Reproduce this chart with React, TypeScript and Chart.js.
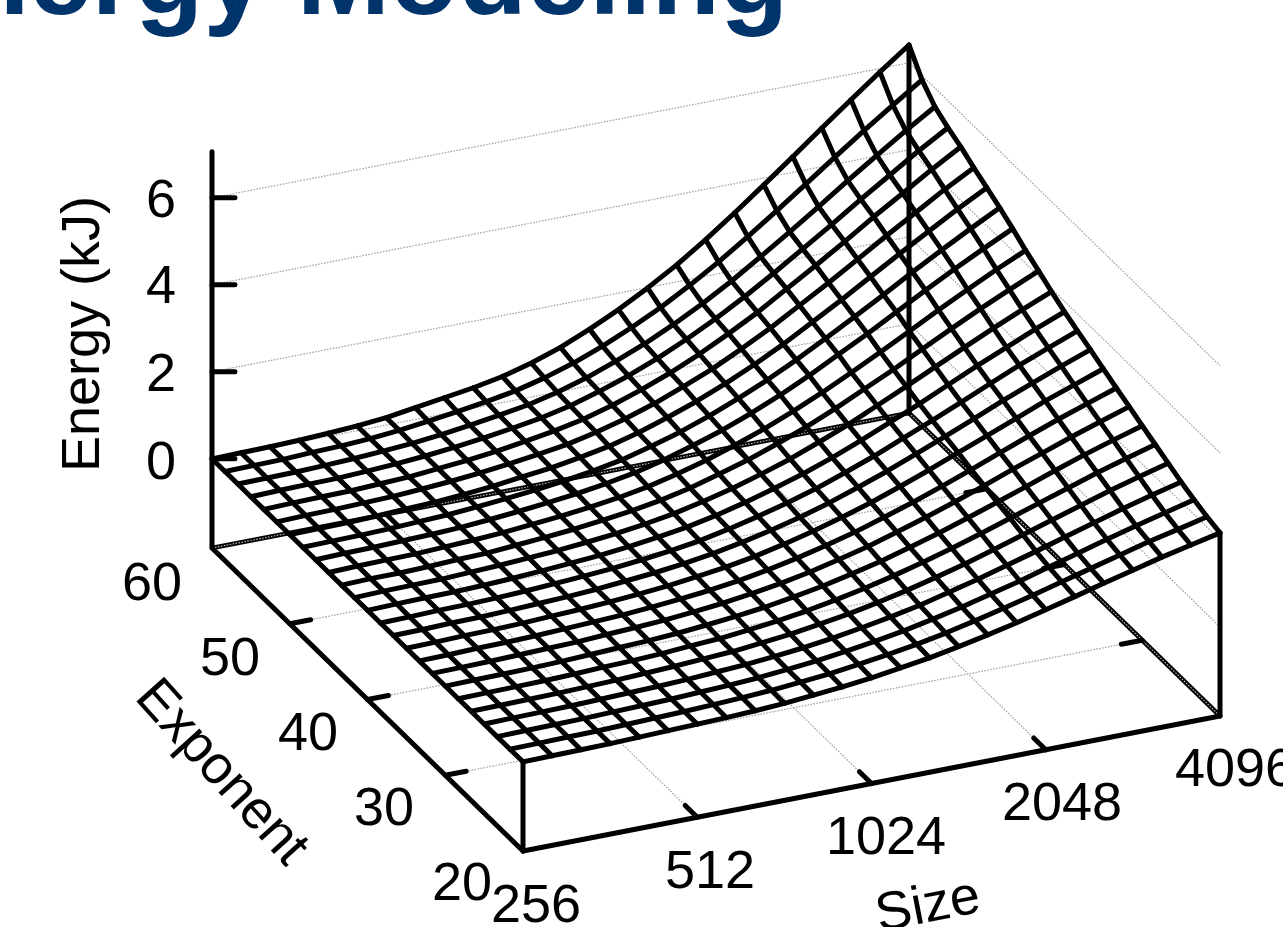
import React, { useEffect, useRef } from "react";
import { Chart, registerables } from "chart.js";

Chart.register(...registerables);

const sizeTicks = [256, 512, 1024, 2048, 4096];
const exponentTicks = [20, 30, 40, 50, 60];
const energyTicks = [0, 2, 4, 6];

const sizeGridLog2 = [8, 8.167, 8.333, 8.5, 8.667, 8.833, 9, 9.167, 9.333, 9.5, 9.667, 9.833, 10, 10.167, 10.333, 10.5, 10.667, 10.833, 11, 11.167, 11.333, 11.5, 11.667, 11.833, 12];
const exponentGrid = [20, 21.67, 23.33, 25, 26.67, 28.33, 30, 31.67, 33.33, 35, 36.67, 38.33, 40, 41.67, 43.33, 45, 46.67, 48.33, 50, 51.67, 53.33, 55, 56.67, 58.33, 60];

const energyE20 = [0, .01, .02, .03, .05, .07, .09, .11, .14, .18, .24, .30, .38, .48, .58, .71, .85, 1.00, 1.17, 1.34, 1.52, 1.69, 1.86, 2.01, 2.16];
const energyE22 = [0, .01, .02, .03, .05, .07, .09, .12, .15, .19, .25, .31, .40, .49, .60, .73, .88, 1.04, 1.21, 1.39, 1.57, 1.75, 1.93, 2.08, 2.24];
const energyE23 = [0, .01, .02, .03, .05, .07, .09, .12, .15, .19, .25, .32, .41, .51, .62, .76, .91, 1.08, 1.25, 1.44, 1.63, 1.82, 2.00, 2.17, 2.34];
const energyE25 = [0, .01, .02, .03, .05, .07, .09, .12, .16, .20, .26, .33, .42, .53, .65, .79, .96, 1.13, 1.32, 1.51, 1.71, 1.91, 2.11, 2.29, 2.46];
const energyE27 = [0, .01, .02, .03, .05, .07, .10, .13, .17, .21, .28, .35, .45, .56, .69, .84, 1.01, 1.19, 1.39, 1.60, 1.81, 2.02, 2.23, 2.42, 2.60];
const energyE28 = [0, .01, .02, .03, .05, .08, .10, .13, .18, .22, .29, .37, .47, .59, .73, .89, 1.07, 1.26, 1.47, 1.69, 1.91, 2.13, 2.35, 2.55, 2.74];
const energyE30 = [0, .01, .02, .03, .05, .08, .11, .14, .18, .24, .31, .39, .50, .62, .77, .93, 1.12, 1.32, 1.54, 1.77, 2.00, 2.24, 2.47, 2.68, 2.88];
const energyE32 = [0, .01, .02, .04, .06, .08, .12, .15, .19, .25, .32, .41, .52, .65, .81, .98, 1.18, 1.39, 1.62, 1.86, 2.11, 2.35, 2.59, 2.81, 3.03];
const energyE33 = [0, .01, .03, .04, .06, .09, .12, .15, .20, .26, .33, .42, .54, .68, .84, 1.02, 1.23, 1.45, 1.69, 1.94, 2.20, 2.46, 2.71, 2.94, 3.17];
const energyE35 = [0, .01, .03, .04, .06, .09, .12, .16, .21, .27, .35, .44, .56, .71, .88, 1.07, 1.28, 1.52, 1.77, 2.04, 2.30, 2.57, 2.84, 3.08, 3.32];
const energyE37 = [0, .01, .03, .04, .06, .09, .12, .16, .22, .28, .36, .46, .59, .74, .91, 1.11, 1.34, 1.58, 1.85, 2.12, 2.40, 2.69, 2.96, 3.22, 3.47];
const energyE38 = [0, .01, .03, .04, .06, .09, .13, .17, .22, .29, .37, .47, .61, .77, .95, 1.15, 1.39, 1.64, 1.92, 2.20, 2.49, 2.79, 3.08, 3.35, 3.61];
const energyE40 = [0, .02, .03, .04, .06, .09, .13, .18, .23, .30, .39, .49, .63, .80, .99, 1.20, 1.44, 1.71, 2.00, 2.29, 2.60, 2.91, 3.20, 3.49, 3.76];
const energyE42 = [0, .02, .03, .04, .07, .10, .14, .18, .24, .31, .40, .51, .66, .83, 1.03, 1.25, 1.51, 1.78, 2.09, 2.40, 2.72, 3.04, 3.35, 3.65, 3.93];
const energyE43 = [0, .02, .02, .04, .07, .09, .14, .19, .25, .33, .42, .53, .68, .87, 1.07, 1.31, 1.57, 1.86, 2.18, 2.50, 2.84, 3.18, 3.51, 3.82, 4.12];
const energyE45 = [0, .02, .03, .04, .07, .10, .14, .20, .26, .34, .43, .55, .71, .90, 1.12, 1.36, 1.64, 1.94, 2.27, 2.61, 2.96, 3.32, 3.66, 3.99, 4.30];
const energyE47 = [0, .02, .03, .05, .07, .10, .15, .21, .28, .36, .46, .58, .75, .95, 1.17, 1.43, 1.72, 2.04, 2.39, 2.74, 3.11, 3.48, 3.84, 4.18, 4.51];
const energyE48 = [0, .01, .02, .04, .07, .10, .15, .21, .28, .36, .46, .59, .77, .97, 1.21, 1.48, 1.78, 2.11, 2.47, 2.84, 3.22, 3.61, 3.99, 4.35, 4.70];
const energyE50 = [0, .01, .02, .04, .07, .10, .15, .21, .29, .37, .48, .61, .79, 1.01, 1.25, 1.53, 1.84, 2.18, 2.56, 2.94, 3.34, 3.74, 4.13, 4.51, 4.87];
const energyE52 = [0, .02, .03, .05, .07, .11, .16, .22, .30, .39, .49, .64, .82, 1.04, 1.30, 1.58, 1.91, 2.26, 2.65, 3.04, 3.45, 3.87, 4.27, 4.67, 5.04];
const energyE53 = [0, .02, .03, .04, .07, .10, .16, .22, .30, .40, .51, .65, .84, 1.07, 1.33, 1.63, 1.97, 2.33, 2.74, 3.15, 3.57, 4.01, 4.42, 4.84, 5.23];
const energyE55 = [0, .02, .03, .04, .07, .11, .16, .23, .31, .41, .52, .67, .87, 1.10, 1.37, 1.68, 2.02, 2.40, 2.81, 3.24, 3.67, 4.12, 4.55, 4.98, 5.38];
const energyE57 = [0, .01, .02, .04, .07, .11, .16, .23, .32, .42, .53, .69, .89, 1.14, 1.41, 1.73, 2.08, 2.47, 2.90, 3.34, 3.79, 4.26, 4.71, 5.15, 5.57];
const energyE58 = [0, .01, .02, .05, .07, .11, .17, .25, .34, .44, .56, .73, .94, 1.20, 1.50, 1.83, 2.21, 2.62, 3.07, 3.54, 4.02, 4.51, 4.99, 5.45, 5.90];
const energyE60 = [0, .01, .02, .04, .07, .11, .17, .27, .37, .47, .60, .78, 1.01, 1.30, 1.62, 1.99, 2.39, 2.84, 3.33, 3.84, 4.36, 4.89, 5.41, 5.92, 6.41];

const energyRows = [energyE20, energyE22, energyE23, energyE25, energyE27, energyE28, energyE30, energyE32, energyE33, energyE35, energyE37, energyE38, energyE40, energyE42, energyE43, energyE45, energyE47, energyE48, energyE50, energyE52, energyE53, energyE55, energyE57, energyE58, energyE60];

const FLOOR = -2.05;
const TOP = 7.06;
const FONT = '"Liberation Sans", Arial, sans-serif';

type P3 = [number, number, number];

// 3D view of the box: log2(size), exponent, energy -> value on the hidden x and y scales
function project([s, e, z]: P3) {
  return {
    x: 523 + 174.25 * (s - 8) - 7.775 * (e - 20),
    y: 851 - 33.75 * (s - 8) - 7.575 * (e - 20) - 43.5 * (z - FLOOR),
  };
}

function line(points: P3[], color: string, width: number, order: number, dash?: number[]) {
  return {
    type: "scatter" as const,
    data: points.map(project),
    showLine: true,
    pointRadius: 0,
    borderColor: color,
    borderWidth: width,
    borderDash: dash ?? [],
    borderCapStyle: dash ? "butt" : "round",
    borderJoinStyle: "round",
    tension: 0,
    fill: false,
    order,
    clip: false,
  };
}

function buildDatasets() {
  const out: any[] = [];
  const gridColor = "#a0a0a0";
  const dots = [1.6, 1.4];
  const log2s = sizeTicks.map((v) => Math.log2(v));
  const sMin = log2s[0];
  const sMax = log2s[log2s.length - 1];
  const eMin = exponentTicks[0];
  const eMax = exponentTicks[exponentTicks.length - 1];

  // gray grid
  energyTicks.forEach((z) => {
    out.push(line([[sMin, eMax, z], [sMax, eMax, z], [sMax, eMin, z]], gridColor, 1.2, 40, dots));
  });
  log2s.slice(1, -1).forEach((s) => {
    out.push(line([[s, eMin, FLOOR], [s, eMax, FLOOR]], gridColor, 1.2, 40, dots));
  });
  exponentTicks.slice(1, -1).forEach((e) => {
    out.push(line([[sMin, e, FLOOR], [sMax, e, FLOOR]], gridColor, 1.2, 40, dots));
  });

  // back floor edges, dark with the gray grid line on them
  const backA: P3[] = [[sMin, eMax, FLOOR], [sMax, eMax, FLOOR]];
  const backB: P3[] = [[sMax, eMax, FLOOR], [sMax, eMin, FLOOR]];
  out.push(line(backA, "#000", 4.6, 50));
  out.push(line(backB, "#000", 4.6, 50));
  out.push(line(backA, "#b0b0b0", 1.2, 45, dots));
  out.push(line(backB, "#b0b0b0", 1.2, 45, dots));

  // box
  const boxW = 5;
  out.push(line([[sMin, eMin, FLOOR], [sMax, eMin, FLOOR]], "#000", boxW, 20));
  out.push(line([[sMin, eMin, FLOOR], [sMin, eMax, FLOOR], [sMin, eMax, TOP]], "#000", boxW, 20));
  out.push(line([[sMin, eMin, FLOOR], [sMin, eMin, energyE20[0]]], "#000", boxW, 20));
  out.push(line([[sMax, eMin, FLOOR], [sMax, eMin, energyE20[24]]], "#000", boxW, 20));
  out.push(line([[sMax, eMax, FLOOR], [sMax, eMax, energyE60[24]]], "#000", boxW, 20));

  // ticks
  energyTicks.forEach((z) => {
    out.push(line([[sMin, eMax, z], [sMin + 0.11, eMax - 0.49, z]], "#000", boxW, 20));
  });
  log2s.slice(1, -1).forEach((s) => {
    out.push(line([[s, eMin, FLOOR], [s, eMin + 1.55, FLOOR]], "#000", boxW, 20));
    out.push(line([[s, eMax, FLOOR], [s, eMax - 1.55, FLOOR]], "#000", boxW, 20));
  });
  exponentTicks.slice(1, -1).forEach((e) => {
    out.push(line([[sMin, e, FLOOR], [sMin + 0.12, e, FLOOR]], "#000", boxW, 20));
    out.push(line([[sMax, e, FLOOR], [sMax - 0.12, e, FLOOR]], "#000", boxW, 20));
  });

  // surface mesh
  const meshW = 5;
  energyRows.forEach((row, j) => {
    out.push(line(row.map((z, i) => [sizeGridLog2[i], exponentGrid[j], z] as P3), "#000", meshW, 10));
  });
  sizeGridLog2.forEach((s, i) => {
    out.push(line(energyRows.map((row, j) => [s, exponentGrid[j], row[i]] as P3), "#000", meshW, 10));
  });
  return out;
}

const labels = {
  id: "labels3d",
  afterDraw(chart: any) {
    const ctx = chart.ctx as CanvasRenderingContext2D;
    const text = (t: string, x: number, y: number, rot = 0, align: CanvasTextAlign = "center", base: CanvasTextBaseline = "middle") => {
      ctx.save();
      ctx.translate(x, y);
      ctx.rotate((rot * Math.PI) / 180);
      ctx.textAlign = align;
      ctx.textBaseline = base;
      ctx.fillText(t, 0, 0);
      ctx.restore();
    };
    ctx.save();
    ctx.fillStyle = "#00346b";
    ctx.font = `bold 112px ${FONT}`;
    text("Energy Modeling", -114, 14, 0, "left", "alphabetic");

    ctx.fillStyle = "#000";
    ctx.font = `54px ${FONT}`;
    const ex = [462, 384, 308, 230, 152];
    const ey = [882, 807, 732, 657, 582];
    exponentTicks.forEach((v, i) => text(String(v), ex[i], ey[i] + 3));
    const sx = [536, 710, 886, 1062, 1235];
    const sy = [904, 870, 836, 802, 768];
    sizeTicks.forEach((v, i) => text(String(v), sx[i], sy[i] + 3));
    const zy = [461, 373, 285, 199];
    energyTicks.forEach((v, i) => text(String(v), 176, zy[i] + 3, 0, "right"));

    text("Energy (kJ)", 99, 334, -90, "center", "alphabetic");
    text("Size", 928, 907, -11);
    text("Exponent", 221, 773, 48);
    ctx.restore();
  },
};

export default function App() {
  const ref = useRef<HTMLCanvasElement>(null);
  useEffect(() => {
    const chart = new Chart(ref.current as HTMLCanvasElement, {
      type: "scatter",
      data: { datasets: buildDatasets() },
      options: {
        animation: false,
        responsive: false,
        devicePixelRatio: 1,
        events: [],
        layout: { padding: 0 },
        plugins: { legend: { display: false }, tooltip: { enabled: false }, title: { display: false } },
        scales: {
          x: { type: "linear", min: 0, max: 1283, display: false },
          y: { type: "linear", min: 0, max: 927, reverse: true, display: false },
        },
      },
      plugins: [labels],
    } as any);
    return () => chart.destroy();
  }, []);
  return (
    <div style={{ position: "fixed", left: 0, top: 0, width: 1283, height: 927, background: "#fff", overflow: "hidden" }}>
      <canvas ref={ref} width={1283} height={927} style={{ display: "block" }} />
    </div>
  );
}
